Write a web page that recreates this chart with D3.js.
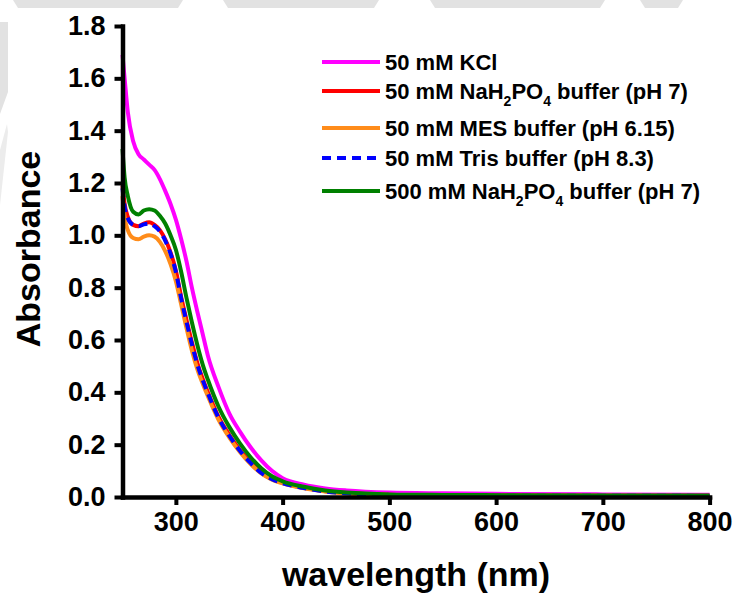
<!DOCTYPE html>
<html>
<head>
<meta charset="utf-8">
<script src="https://cdn.jsdelivr.net/npm/d3@7"></script>
<style>
  html, body { margin: 0; padding: 0; background: #fff; }
  svg { display: block; font-family: "Liberation Sans", Arial, sans-serif; }
</style>
</head>
<body>
<svg id="chart" width="734" height="596"></svg>
<script>
// Wavelength grid (nm) shared by all spectra
const wavelengths = [250, 252, 255, 260, 265, 270, 275, 280, 285, 290, 295, 300, 305, 310, 315, 320, 325, 330, 340, 350, 360, 370, 380, 390, 400, 420, 440, 460, 500, 550, 600, 700, 800];

// Absorbance spectra per medium
const kcl50       = [1.69, 1.60, 1.47, 1.36, 1.31, 1.29, 1.27, 1.25, 1.215, 1.17, 1.12, 1.06, 0.985, 0.90, 0.80, 0.71, 0.625, 0.54, 0.42, 0.32, 0.25, 0.19, 0.14, 0.10, 0.072, 0.047, 0.033, 0.025, 0.017, 0.014, 0.012, 0.010, 0.009];
const nah2po4_50  = [1.19, 1.12, 1.07, 1.04, 1.035, 1.045, 1.05, 1.04, 1.02, 0.985, 0.935, 0.865, 0.764, 0.676, 0.591, 0.514, 0.453, 0.40, 0.306, 0.238, 0.18, 0.132, 0.094, 0.069, 0.054, 0.035, 0.022, 0.015, 0.009, 0.007, 0.006, 0.005, 0.005];
const mes50       = [1.15, 1.07, 1.02, 0.99, 0.985, 0.995, 1.0, 0.995, 0.975, 0.94, 0.89, 0.825, 0.735, 0.645, 0.560, 0.490, 0.435, 0.385, 0.295, 0.228, 0.172, 0.126, 0.090, 0.066, 0.052, 0.033, 0.021, 0.013, 0.008, 0.006, 0.005, 0.005, 0.004];
const tris50      = [1.18, 1.11, 1.065, 1.04, 1.035, 1.042, 1.045, 1.035, 1.015, 0.98, 0.93, 0.86, 0.758, 0.668, 0.584, 0.508, 0.448, 0.396, 0.302, 0.234, 0.177, 0.13, 0.092, 0.068, 0.053, 0.034, 0.021, 0.014, 0.008, 0.006, 0.005, 0.005, 0.004];
const nah2po4_500 = [1.33, 1.22, 1.15, 1.09, 1.08, 1.095, 1.10, 1.095, 1.075, 1.045, 1.0, 0.945, 0.86, 0.76, 0.668, 0.583, 0.508, 0.448, 0.345, 0.268, 0.205, 0.152, 0.11, 0.079, 0.06, 0.039, 0.025, 0.017, 0.010, 0.008, 0.007, 0.006, 0.006];

const xTicks = [300, 400, 500, 600, 700, 800];
const yTicks = [0, 0.2, 0.4, 0.6, 0.8, 1.0, 1.2, 1.4, 1.6, 1.8];

// Series in drawing order
const series = [
  { name: "kcl",   values: kcl50,       color: "#ff00ff", dash: null },
  { name: "na50",  values: nah2po4_50,  color: "#ff0000", dash: null },
  { name: "mes",   values: mes50,       color: "#ff8c1a", dash: null },
  { name: "tris",  values: tris50,      color: "#0000ff", dash: "9,6" },
  { name: "na500", values: nah2po4_500, color: "#008000", dash: null }
];

// Legend entries in display order; true marks subscripted characters
const legendItems = [
  { key: "kcl",   parts: [["50 mM KCl", false]] },
  { key: "na50",  parts: [["50 mM NaH", false], ["2", true], ["PO", false], ["4", true], [" buffer (pH 7)", false]] },
  { key: "mes",   parts: [["50 mM MES buffer (pH 6.15)", false]] },
  { key: "tris",  parts: [["50 mM Tris buffer (pH 8.3)", false]] },
  { key: "na500", parts: [["500 mM NaH", false], ["2", true], ["PO", false], ["4", true], [" buffer (pH 7)", false]] }
];
const legendRowY = [62, 91, 128, 158, 191];

const svg = d3.select("#chart");

// Faint decorative banner shapes along the top and left edges
const deco = svg.append("g").attr("fill", "#e2e2e2");
[[13, 183], [223, 379], [430, 605], [640, 683]].forEach(([a, b]) => {
  deco.append("path").attr("d", `M${a},0 L${b},0 L${b - 5},8 L${a + 5},8 Z`);
});
deco.append("path").attr("d", "M0,22 L8,22 L8,92 L0,114 Z");
deco.append("path").attr("d", "M0,150 L7,124 L8,132 L0,205 Z").attr("fill", "#ececec");

const x = d3.scaleLinear().domain([250, 800]).range([122.5, 709.6]);
const y = d3.scaleLinear().domain([0, 1.8]).range([497, 26]);

// Spectra
const line = d3.line()
  .x((d, i) => x(wavelengths[i]))
  .y(d => y(d))
  .curve(d3.curveMonotoneX);

svg.append("g").selectAll("path")
  .data(series)
  .join("path")
  .attr("d", d => line(d.values))
  .attr("fill", "none")
  .attr("stroke", d => d.color)
  .attr("stroke-width", 4)
  .attr("stroke-dasharray", d => d.dash);

// Axes
const xAxis = svg.append("g")
  .attr("transform", `translate(0,${y(0)})`)
  .call(d3.axisBottom(x).tickValues(xTicks).tickSize(8).tickSizeOuter(0).tickPadding(7));
const yAxis = svg.append("g")
  .attr("transform", `translate(${x(250)},0)`)
  .call(d3.axisLeft(y).tickValues(yTicks).tickSize(8).tickSizeOuter(0).tickPadding(9).tickFormat(d3.format(".1f")));

[xAxis, yAxis].forEach(g => {
  g.select(".domain").attr("stroke", "#000").attr("stroke-width", 4.5).attr("stroke-linecap", "square");
  g.selectAll(".tick line").attr("stroke", "#000").attr("stroke-width", 4);
  g.selectAll(".tick text")
    .attr("fill", "#000")
    .attr("font-family", "'Liberation Sans', Arial, sans-serif")
    .attr("font-weight", "bold")
    .attr("font-size", 27);
});

// Axis titles
svg.append("text")
  .attr("x", 416).attr("y", 586)
  .attr("text-anchor", "middle")
  .attr("font-weight", "bold").attr("font-size", 34)
  .text("wavelength (nm)");
svg.append("text")
  .attr("transform", "translate(40,249) rotate(-90)")
  .attr("text-anchor", "middle")
  .attr("font-weight", "bold").attr("font-size", 34)
  .text("Absorbance");

// Legend
const legend = svg.append("g");
legendItems.forEach((item, i) => {
  const s = series.find(d => d.name === item.key);
  const ly = legendRowY[i];
  legend.append("line")
    .attr("x1", 322).attr("x2", 380)
    .attr("y1", ly).attr("y2", ly)
    .attr("stroke", s.color).attr("stroke-width", 4)
    .attr("stroke-dasharray", s.dash);
  const t = legend.append("text")
    .attr("x", 385).attr("y", ly + 8)
    .attr("font-weight", "bold").attr("font-size", 22);
  let lowered = false;
  item.parts.forEach(([str, sub]) => {
    const shift = sub === lowered ? 0 : (sub ? 7 : -7);
    lowered = sub;
    t.append("tspan")
      .attr("font-size", sub ? 14 : 22)
      .attr("dy", shift)
      .text(str);
  });
});
</script>
</body>
</html>
